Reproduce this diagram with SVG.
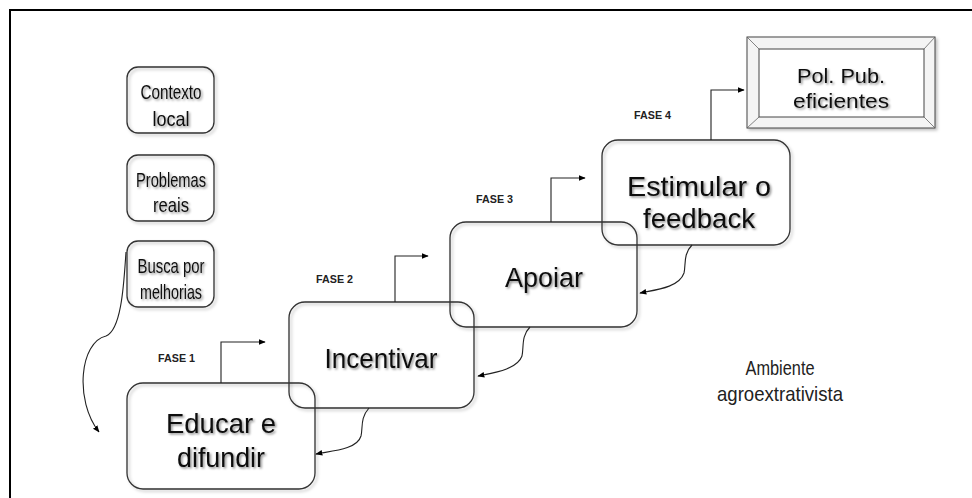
<svg xmlns="http://www.w3.org/2000/svg" width="972" height="498" viewBox="0 0 972 498">
<defs>
<filter id="ts" x="-20%" y="-30%" width="140%" height="160%"><feDropShadow dx="1.5" dy="1.5" stdDeviation="1.2" flood-color="#000" flood-opacity="0.45"/></filter>
<filter id="bs" x="-10%" y="-10%" width="125%" height="125%"><feDropShadow dx="2" dy="2" stdDeviation="1.5" flood-color="#000" flood-opacity="0.25"/></filter>
<marker id="ah" viewBox="0 0 10 10" refX="9" refY="5" markerWidth="7" markerHeight="7" markerUnits="userSpaceOnUse" orient="auto"><path d="M0,1 L10,5 L0,9 z" fill="#000"/></marker>
</defs>
<style>
.box{fill:none;stroke:#333;stroke-width:1.3;filter:url(#bs)}
.t{font-family:"Liberation Sans",Arial,sans-serif;fill:#111;text-anchor:middle;filter:url(#ts)}
.s{font-size:21px}
.l{font-size:28px}
.f{font-family:"Liberation Sans",Arial,sans-serif;font-size:10px;font-weight:bold;fill:#222}
.a{font-family:"Liberation Sans",Arial,sans-serif;font-size:21px;fill:#222;text-anchor:middle}
.c{fill:none;stroke:#222;stroke-width:1.1}
</style>
<rect width="972" height="498" fill="#fff"/>
<rect x="10" y="10" width="1000" height="600" fill="none" stroke="#000" stroke-width="2"/>

<g id="contexto"><rect class="box" x="127" y="67" width="87" height="66" rx="11"/><text class="t s" x="171" y="99" textLength="61" lengthAdjust="spacingAndGlyphs">Contexto</text><text class="t s" x="171" y="126" textLength="37" lengthAdjust="spacingAndGlyphs">local</text></g>
<g id="problemas"><rect class="box" x="127" y="155" width="87" height="66" rx="11"/><text class="t s" x="171" y="187" textLength="70" lengthAdjust="spacingAndGlyphs">Problemas</text><text class="t s" x="171" y="212" textLength="36" lengthAdjust="spacingAndGlyphs">reais</text></g>
<g id="busca"><rect class="box" x="127" y="241" width="87" height="66" rx="11"/><text class="t s" x="171" y="273" textLength="67" lengthAdjust="spacingAndGlyphs">Busca por</text><text class="t s" x="171" y="299" textLength="62" lengthAdjust="spacingAndGlyphs">melhorias</text></g>

<g id="educar"><rect class="box" x="127" y="383" width="188" height="106" rx="16"/><text class="t l" x="221" y="433" textLength="110" lengthAdjust="spacingAndGlyphs">Educar e</text><text class="t l" x="221" y="467" textLength="88" lengthAdjust="spacingAndGlyphs">difundir</text></g>
<g id="incentivar"><rect class="box" x="289" y="302" width="185" height="106" rx="16"/><text class="t l" x="381" y="368" textLength="113" lengthAdjust="spacingAndGlyphs">Incentivar</text></g>
<g id="apoiar"><rect class="box" x="450" y="222" width="187" height="105" rx="16"/><text class="t l" x="544" y="287" textLength="78" lengthAdjust="spacingAndGlyphs">Apoiar</text></g>
<g id="estimular"><rect class="box" x="602" y="140" width="188" height="105" rx="16"/><text class="t l" x="699" y="196" textLength="144" lengthAdjust="spacingAndGlyphs">Estimular o</text><text class="t l" x="699" y="228" textLength="112" lengthAdjust="spacingAndGlyphs">feedback</text></g>

<g id="polpub">
<rect x="747" y="37" width="188" height="91" fill="#f4f4f4" stroke="#444" stroke-width="1" filter="url(#bs)"/>
<rect x="759" y="49" width="165" height="68" fill="#fff" stroke="#444" stroke-width="1"/>
<path d="M747,37 L759,49 M935,37 L924,49 M747,128 L759,117 M935,128 L924,117" stroke="#666" stroke-width="0.8" fill="none"/>
<text class="t s" x="841" y="83" textLength="88" lengthAdjust="spacingAndGlyphs">Pol. Pub.</text><text class="t s" x="841" y="108" textLength="96" lengthAdjust="spacingAndGlyphs">eficientes</text>
</g>

<g id="fases">
<text class="f" x="158" y="362" textLength="37" lengthAdjust="spacingAndGlyphs">FASE 1</text>
<text class="f" x="316" y="283" textLength="37" lengthAdjust="spacingAndGlyphs">FASE 2</text>
<text class="f" x="476" y="203" textLength="37" lengthAdjust="spacingAndGlyphs">FASE 3</text>
<text class="f" x="634" y="119" textLength="37" lengthAdjust="spacingAndGlyphs">FASE 4</text>
</g>

<g id="ambiente"><text class="a" x="780" y="375" textLength="69" lengthAdjust="spacingAndGlyphs">Ambiente</text><text class="a" x="780" y="401" textLength="126" lengthAdjust="spacingAndGlyphs">agroextrativista</text></g>

<g id="connectors">
<path class="c" d="M221,383 V342 H265" marker-end="url(#ah)"/>
<path class="c" d="M395,302 V256 H428" marker-end="url(#ah)"/>
<path class="c" d="M551,222 V178 H585" marker-end="url(#ah)"/>
<path class="c" d="M711,140 V90 H744" marker-end="url(#ah)"/>
<path class="c" d="M369,408 C360,418 363,428 361,436 C357,450 330,451 316,454" marker-end="url(#ah)"/>
<path class="c" d="M530,327 C521,336 524,347 522,356 C517,370 492,373 478,376" marker-end="url(#ah)"/>
<path class="c" d="M692,245 C683,254 686,265 684,273 C679,288 654,290 640,293" marker-end="url(#ah)"/>
<path class="c" d="M126,252 C124,280 122,330 106,336 C80,342 74,400 99,432" marker-end="url(#ah)"/>
</g>
</svg>
